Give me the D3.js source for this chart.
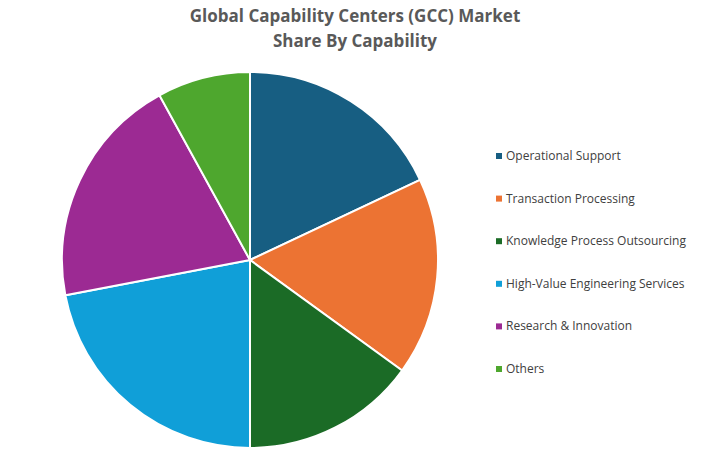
<!DOCTYPE html>
<html><head><meta charset="utf-8">
<script src="https://cdn.jsdelivr.net/npm/d3@7"></script>
<style>body{margin:0;background:#fff;font-family:"Open Sans",Arial,sans-serif}</style>
</head><body><svg id="c" width="713" height="460"></svg>
<script>
const categories=["Operational Support","Transaction Processing","Knowledge Process Outsourcing","High-Value Engineering Services","Research & Innovation","Others"];
const values=[18,17,15,22,20,8];
const colors=["#175e82","#ec7333","#1b6b26","#109fd8","#9c2a93","#4ea72e"];
const titleLines=["Global Capability Centers (GCC) Market","Share By Capability"];
const svg=d3.select("#c");
svg.selectAll("text.t").data(titleLines).enter().append("text").attr("class","t")
 .attr("x",355).attr("y",(d,i)=>22+i*25).attr("text-anchor","middle")
 .attr("font-size",17).attr("font-weight","bold").attr("fill","#595959").text(d=>d);
const pie=d3.pie().sort(null).value(d=>d)(values);
const arc=d3.arc().innerRadius(0).outerRadius(188);
const g=svg.append("g").attr("transform","translate(250,260)");
g.selectAll("path").data(pie).enter().append("path").attr("d",arc)
 .attr("fill",(d,i)=>colors[i]).attr("stroke","#fff").attr("stroke-width",2);
const lg=svg.append("g").attr("transform","translate(496,156)");
const it=lg.selectAll("g").data(categories).enter().append("g").attr("transform",(d,i)=>`translate(0,${i*42.6})`);
it.append("rect").attr("x",0).attr("y",-3).attr("width",6).attr("height",6).attr("fill",(d,i)=>colors[i]);
it.append("text").attr("x",10).attr("y",4).attr("font-size",12).attr("fill","#404040").text(d=>d);
</script></body></html>
